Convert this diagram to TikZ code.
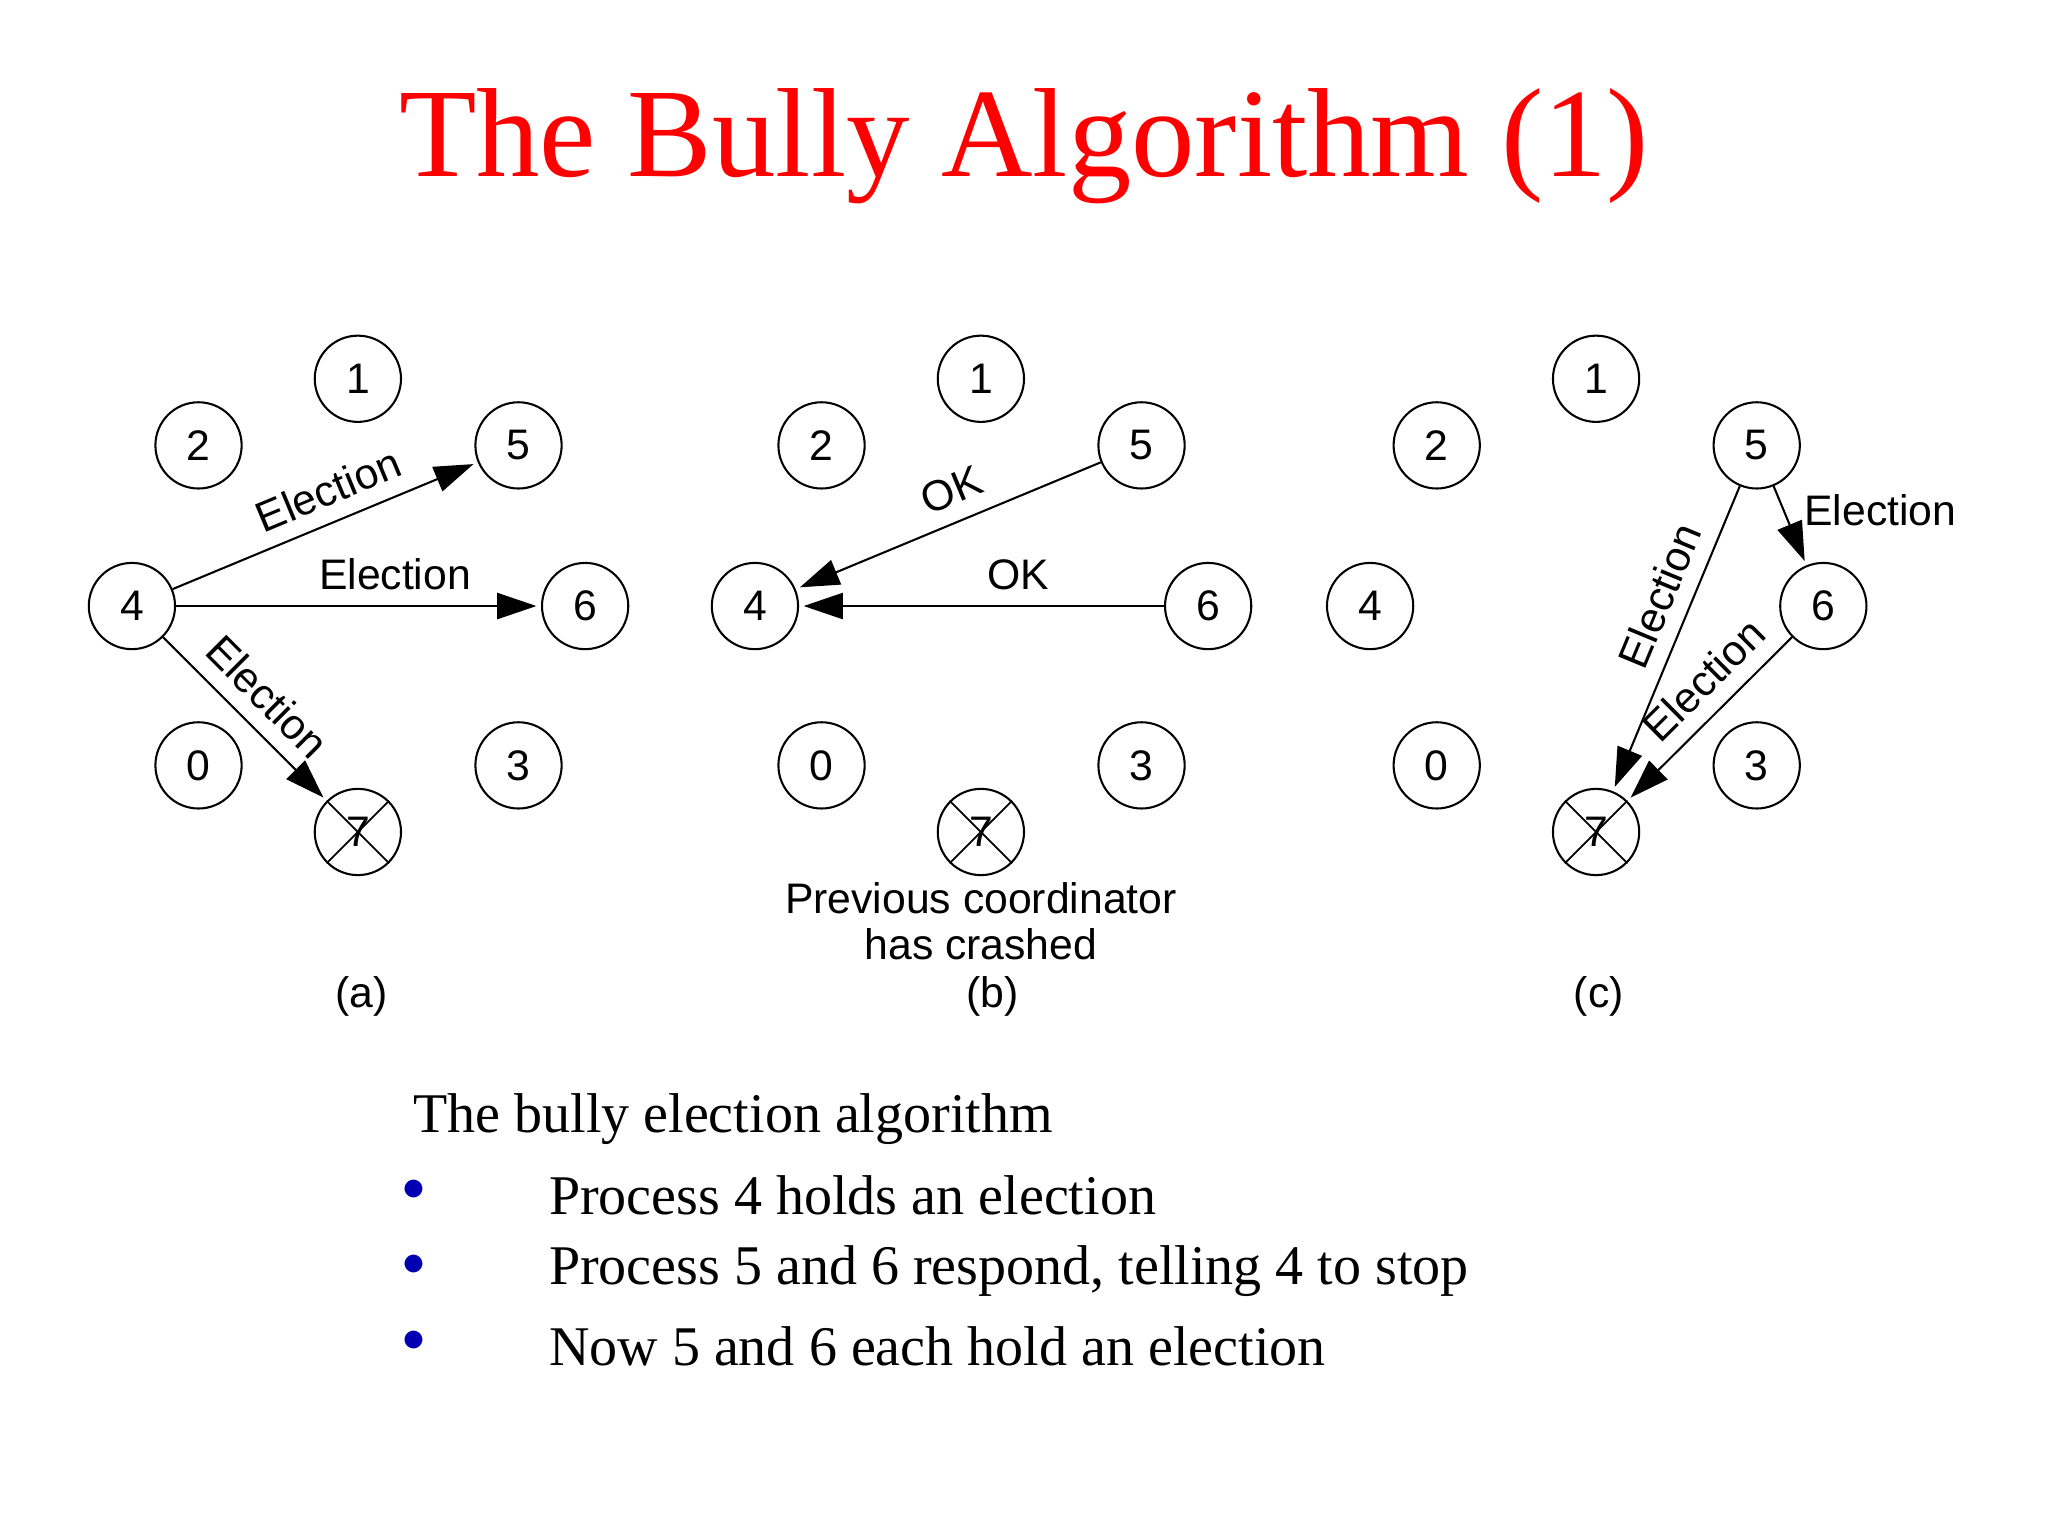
\documentclass[tikz,border=0pt]{standalone}
\usepackage{fontspec}
\setmainfont{Liberation Serif}
\newfontfamily\arialf{Liberation Sans}
\usetikzlibrary{arrows.meta}
\begin{document}
\begin{tikzpicture}[x=0.01cm,y=-0.01cm,
 pn/.style={circle,draw,line width=0.45pt,minimum size=0.66cm,inner sep=0pt,font=\arialf\fontsize{9.3}{10}\selectfont},
 ar/.style={-{Triangle[length=0.3cm,width=0.2cm]},line width=0.45pt,shorten >=1pt},
 lb/.style={font=\arialf\fontsize{9.3}{10}\selectfont},
 cross/.style={line width=0.4pt}]
\useasboundingbox (0,0) rectangle (1568,1176);
\node[text=red,font=\fontsize{27.6}{30}\selectfont] (title) at (784,112) {The Bully Algorithm (1)};
% panels
\foreach \p/\dx in {a/0,b/477,c/948}{
 \node[pn] (\p1) at (274+\dx,290) {1};
 \node[pn] (\p2) at (152+\dx,341) {2};
 \node[pn] (\p5) at (397+\dx,341) {5};
 \node[pn] (\p4) at (101+\dx,464) {4};
 \node[pn] (\p6) at (448+\dx,464) {6};
 \node[pn] (\p0) at (152+\dx,586) {0};
 \node[pn] (\p3) at (397+\dx,586) {3};
 \node[pn] (\p7) at (274+\dx,637) {7};
 \draw[cross] (\p7.north west) -- (\p7.south east) (\p7.north east) -- (\p7.south west);
}
% (a)
\draw[ar] (a4) -- node[lb,sloped,above,pos=0.55]{Election} (a5);
\draw[ar] (a4) -- node[lb,above,pos=0.6]{Election} (a6);
\draw[ar] (a4) -- node[lb,sloped,above,pos=0.5]{Election} (a7);
% (b)
\draw[ar] (b5) -- node[lb,sloped,above,pos=0.45]{OK} (b4);
\draw[ar] (b6) -- node[lb,above,pos=0.4]{OK} (b4);
% (c)
\draw[ar] (c5) -- node[lb,right,pos=0.3,xshift=1pt]{Election} (c6);
\draw[ar] (c5) -- node[lb,sloped,above,pos=0.4]{Election} (c7);
\draw[ar] (c6) -- node[lb,sloped,above,pos=0.4]{Election} (c7);
\node[lb,align=center] (prev) at (751,705) {Previous coordinator\\has crashed};
\node[lb] (la) at (277,763) {(a)};
\node[lb] (lb) at (760,763) {(b)};
\node[lb] (lc) at (1224,763) {(c)};
% text
\node[anchor=west,font=\fontsize{12.2}{14}\selectfont] (t0) at (304,857) {The bully election algorithm};
\foreach \y/\t in {915/Process 4 holds an election,973/{Process 5 and 6 respond, telling 4 to stop},1031/Now 5 and 6 each hold an election}{
 \node[text=blue!70!black,font=\fontsize{10}{12}\selectfont] at (317,\y-4) {$\bullet$};
 \node[anchor=west,font=\fontsize{12.2}{14}\selectfont] at (408,\y) {\t};
}
\end{tikzpicture}
\end{document}
